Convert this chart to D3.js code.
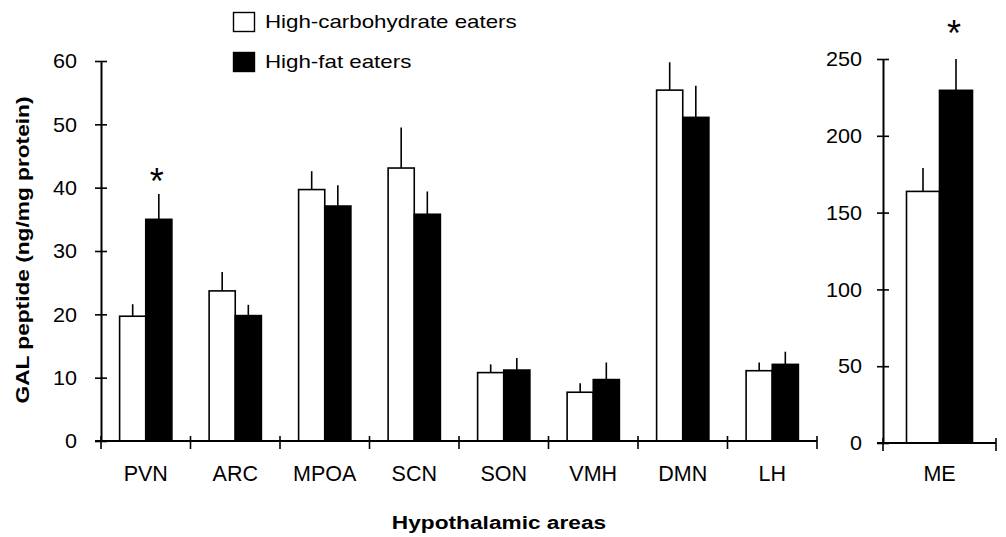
<!DOCTYPE html>
<html>
<head>
<meta charset="utf-8">
<script src="https://cdn.jsdelivr.net/npm/d3@7"></script>
<style>
  html, body { margin: 0; padding: 0; background: #fff; }
  svg { display: block; font-family: "Liberation Sans", Arial, sans-serif; }
</style>
</head>
<body>
<svg id="chart" width="1006" height="537"></svg>
<script>
// GAL peptide por área hipotalámica, dos grupos
const areas = ['PVN', 'ARC', 'MPOA', 'SCN', 'SON', 'VMH', 'DMN', 'LH'];
const hcMean = [19.7, 23.7, 39.7, 43.1, 10.8, 7.7, 55.4, 11.1];
const hcSem  = [1.9, 3.0, 2.9, 6.4, 1.3, 1.4, 4.4, 1.3];
const hfMean = [35.0, 19.8, 37.1, 35.8, 11.2, 9.7, 51.1, 12.1];
const hfSem  = [4.0, 1.7, 3.3, 3.6, 1.9, 2.7, 5.0, 2.0];
const leftTicks = [0, 10, 20, 30, 40, 50, 60];

const meArea = ['ME'];
const meHcMean = [163.8], meHcSem = [15.2];
const meHfMean = [229.6], meHfSem = [20.4];
const rightTicks = [0, 50, 100, 150, 200, 250];

const groups = ['hc', 'hf'];
const groupNames = ['High-carbohydrate eaters', 'High-fat eaters'];
const signif = [['PVN', 'hf'], ['ME', 'hf']];

const svg = d3.select('#chart');
const TICK_FONT = 20;

// texto "ancho" como en el original
function wideText(g, x, y, str, opts = {}) {
  const sx = opts.sx || 1;
  const rot = opts.rotate ? ` rotate(${opts.rotate})` : '';
  return g.append('text')
    .attr('transform', `translate(${x},${y})${rot} scale(${sx},1)`)
    .attr('text-anchor', opts.anchor || 'middle')
    .attr('font-size', opts.size || TICK_FONT)
    .attr('font-weight', opts.bold ? 700 : 400)
    .attr('fill', '#000')
    .text(str);
}

function rowsOf(names, m1, s1, m2, s2) {
  return names.map((n, i) => ({
    area: n,
    vals: [
      { g: 'hc', mean: m1[i], sem: s1[i] },
      { g: 'hf', mean: m2[i], sem: s2[i] }
    ]
  }));
}

function drawPanel(cfg) {
  const { rows, xRange, yDomain, yRange, ticks, labelX, starGap } = cfg;
  const g = svg.append('g');
  const x = d3.scaleBand().domain(rows.map(d => d.area)).range(xRange).padding(0);
  const bw = x.bandwidth();
  const x1 = d3.scaleBand().domain(groups).range([bw * 0.208, bw * 0.792]).padding(0);
  const y = d3.scaleLinear().domain(yDomain).range(yRange);

  // barras
  const cell = g.selectAll('g.cell').data(rows).join('g')
    .attr('class', 'cell')
    .attr('transform', d => `translate(${x(d.area)},0)`);

  cell.selectAll('line.err').data(d => d.vals).join('line')
    .attr('class', 'err')
    .attr('x1', d => x1(d.g) + x1.bandwidth() / 2)
    .attr('x2', d => x1(d.g) + x1.bandwidth() / 2)
    .attr('y1', d => y(d.mean))
    .attr('y2', d => y(d.mean + d.sem))
    .attr('stroke', '#000').attr('stroke-width', 1.6);

  cell.selectAll('rect').data(d => d.vals).join('rect')
    .attr('x', d => x1(d.g))
    .attr('y', d => y(d.mean))
    .attr('width', x1.bandwidth())
    .attr('height', d => y(0) - y(d.mean))
    .attr('fill', d => d.g === 'hc' ? '#fff' : '#000')
    .attr('stroke', '#000').attr('stroke-width', 1.6);

  // asteriscos
  signif.forEach(([a, gr]) => {
    const row = rows.find(r => r.area === a);
    if (!row) return;
    const v = row.vals.find(d => d.g === gr);
    wideText(g, x(a) + x1(gr) + x1.bandwidth() / 2 - 2, y(v.mean + v.sem) - starGap, '*', { size: 36 });
  });

  // eje y
  const yAxis = g.append('g')
    .attr('transform', `translate(${xRange[0]},0)`)
    .call(d3.axisLeft(y).tickValues(ticks).tickSizeInner(6).tickSizeOuter(0).tickFormat(''));
  yAxis.select('.domain').attr('stroke-width', 2);
  yAxis.selectAll('.tick line').attr('x1', 6).attr('stroke-width', 1.6);
  ticks.forEach(t => {
    wideText(g, labelX, y(t) + TICK_FONT * 0.36, String(t), { anchor: 'end', sx: 1.08 });
  });

  // eje x
  const y0 = y(0);
  g.append('line')
    .attr('x1', xRange[0] - 6).attr('x2', xRange[1])
    .attr('y1', y0).attr('y2', y0)
    .attr('stroke', '#000').attr('stroke-width', 2);
  const edges = x.domain().map(d => x(d)).concat([xRange[1]]);
  g.selectAll('line.xtick').data(edges).join('line')
    .attr('class', 'xtick')
    .attr('x1', d => d).attr('x2', d => d)
    .attr('y1', y0 - 5).attr('y2', y0 + 8)
    .attr('stroke', '#000').attr('stroke-width', 1.6);
  rows.forEach(r => {
    wideText(g, x(r.area) + bw / 2, 481, r.area, { size: 21.5 });
  });
}

drawPanel({
  rows: rowsOf(areas, hcMean, hcSem, hfMean, hfSem),
  xRange: [101, 817], yDomain: [0, 60], yRange: [441, 61],
  ticks: leftTicks, labelX: 77, starGap: 0
});

drawPanel({
  rows: rowsOf(meArea, meHcMean, meHcSem, meHfMean, meHfSem),
  xRange: [883, 996], yDomain: [0, 250], yRange: [443, 59],
  ticks: rightTicks, labelX: 862, starGap: 13
});

// leyenda
const leg = svg.append('g').attr('transform', 'translate(233,12)');
groups.forEach((gr, i) => {
  leg.append('rect')
    .attr('x', 0.5).attr('y', i * 40 + 0.5)
    .attr('width', 21).attr('height', 19)
    .attr('fill', gr === 'hc' ? '#fff' : '#000')
    .attr('stroke', '#000').attr('stroke-width', 1.4);
  wideText(leg, 32, i * 40 + 15.5, groupNames[i], { anchor: 'start', sx: 1.2, size: 18.6 });
});

// títulos de ejes
wideText(svg, 499, 529, 'Hypothalamic areas', { bold: true, sx: 1.22, size: 18.6 });
wideText(svg, 28.5, 250, 'GAL peptide (ng/mg protein)', { bold: true, sx: 1.22, size: 18.6, rotate: -90 });
</script>
</body>
</html>
